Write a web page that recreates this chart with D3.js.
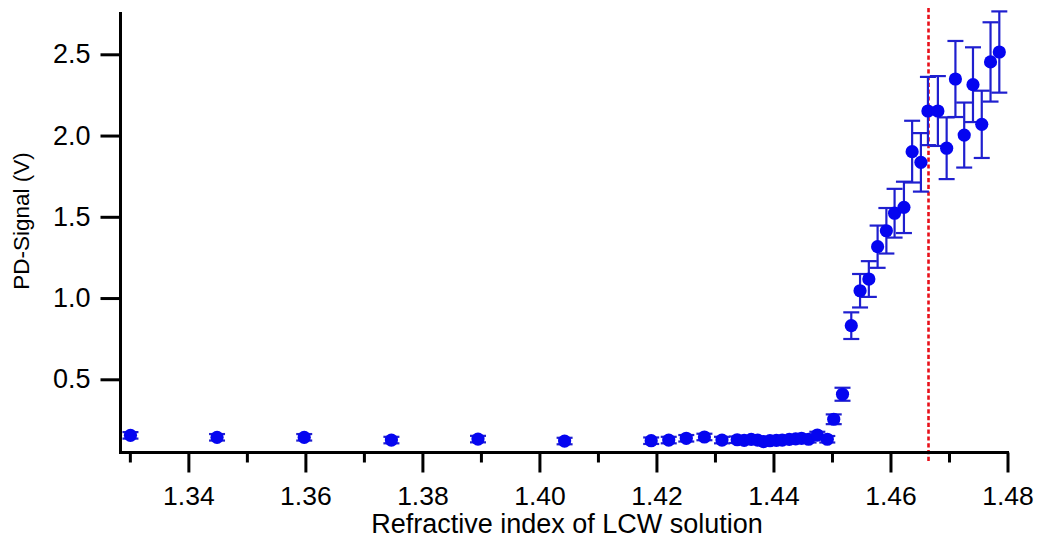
<!DOCTYPE html>
<html>
<head>
<meta charset="utf-8">
<script src="https://cdn.jsdelivr.net/npm/d3@7"></script>
<style>
  html, body { margin: 0; padding: 0; background: #fff; }
  svg { display: block; }
  text { font-family: "Liberation Sans", Arial, sans-serif; fill: #000; }
</style>
</head>
<body>
<svg id="chart" width="1039" height="542"></svg>
<script>
// Refractive index of each LCW solution
const refractiveIndex = [
  1.3301, 1.3449, 1.3598, 1.3747, 1.3895, 1.4043,
  1.4191, 1.4221, 1.4251, 1.4282, 1.4312,
  1.4338, 1.4350, 1.4362, 1.4373, 1.4383, 1.4394, 1.4405, 1.4415,
  1.4427, 1.4438, 1.4448, 1.4460, 1.4475, 1.4492,
  1.4503, 1.4518, 1.4533, 1.4548, 1.4563, 1.4578, 1.4593, 1.4607,
  1.4623, 1.4637, 1.4652, 1.4664, 1.4681, 1.4696, 1.4711, 1.4726,
  1.4741, 1.4756, 1.4771, 1.4786
];

// Photodiode signal (V)
const pdSignal = [
  0.155, 0.143, 0.143, 0.126, 0.132, 0.120,
  0.122, 0.126, 0.137, 0.145, 0.126,
  0.128, 0.124, 0.130, 0.126, 0.116, 0.122, 0.124, 0.126,
  0.130, 0.133, 0.137, 0.131, 0.157, 0.131,
  0.254, 0.408, 0.830, 1.045, 1.117, 1.316, 1.414, 1.522,
  1.558, 1.901, 1.835, 2.151, 2.151, 1.922, 2.348, 2.003,
  2.313, 2.069, 2.453, 2.514
];

// Error of the signal (V), symmetric
const pdError = [
  0.02, 0.02, 0.02, 0.02, 0.02, 0.02,
  0.02, 0.02, 0.02, 0.02, 0.02,
  0.02, 0.02, 0.02, 0.02, 0.02, 0.02, 0.02, 0.02,
  0.02, 0.02, 0.02, 0.02, 0.02, 0.02,
  0.03, 0.04, 0.082, 0.103, 0.11, 0.13, 0.14, 0.15,
  0.158, 0.19, 0.18, 0.21, 0.215, 0.19, 0.234, 0.20,
  0.23, 0.207, 0.244, 0.25
];

// Axis ticks
const xMajorTicks = [1.34, 1.36, 1.38, 1.40, 1.42, 1.44, 1.46, 1.48];
const xMinorTicks = [1.33, 1.35, 1.37, 1.39, 1.41, 1.43, 1.45, 1.47];
const yTicks = [0.5, 1.0, 1.5, 2.0, 2.5];

// Refractive index of the reference (dashed marker)
const markerIndex = [1.4665];

const xDomain = [1.3284, 1.48];
const yDomain = [0.0495, 2.7603];

const svg = d3.select("#chart");

const plot = { left: 120.5, right: 1007.5, top: 12, bottom: 452.5 };

const x = d3.scaleLinear().domain(xDomain).range([plot.left, plot.right]);
const y = d3.scaleLinear().domain(yDomain).range([plot.bottom, plot.top]);

const data = refractiveIndex.map((n, i) => ({ n, v: pdSignal[i], e: pdError[i] }));

// Dashed reference line
svg.append("g")
  .selectAll("line")
  .data(markerIndex)
  .join("line")
  .attr("x1", d => x(d)).attr("x2", d => x(d))
  .attr("y1", 8).attr("y2", 462)
  .attr("stroke", "#e8101a")
  .attr("stroke-width", 2.6)
  .attr("stroke-dasharray", "4.2,2.6");

// Error bars
const barColor = "#1f1fcf";
const capHalf = 8;
const bars = svg.append("g").attr("stroke", barColor).attr("stroke-width", 2.2).attr("fill", "none");
bars.selectAll("line.stem")
  .data(data)
  .join("line")
  .attr("class", "stem")
  .attr("x1", d => x(d.n)).attr("x2", d => x(d.n))
  .attr("y1", d => y(d.v - d.e)).attr("y2", d => y(d.v + d.e));
bars.selectAll("line.capTop")
  .data(data)
  .join("line")
  .attr("class", "capTop")
  .attr("x1", d => x(d.n) - capHalf).attr("x2", d => x(d.n) + capHalf)
  .attr("y1", d => y(d.v + d.e)).attr("y2", d => y(d.v + d.e));
bars.selectAll("line.capBottom")
  .data(data)
  .join("line")
  .attr("class", "capBottom")
  .attr("x1", d => x(d.n) - capHalf).attr("x2", d => x(d.n) + capHalf)
  .attr("y1", d => y(d.v - d.e)).attr("y2", d => y(d.v - d.e));

// Data points
svg.append("g")
  .selectAll("circle")
  .data(data)
  .join("circle")
  .attr("cx", d => x(d.n))
  .attr("cy", d => y(d.v))
  .attr("r", 6.6)
  .attr("fill", "#0505f0");

// X axis: major ticks with labels, minor ticks without
const xAxis = d3.axisBottom(x)
  .tickValues(xMajorTicks)
  .tickSize(20)
  .tickSizeOuter(0)
  .tickPadding(14)
  .tickFormat(d3.format(".2f"));
const gx = svg.append("g").attr("transform", `translate(0,${plot.bottom})`).call(xAxis);
gx.select(".domain").attr("stroke", "#000").attr("stroke-width", 3)
  .attr("d", `M${plot.left - 1.5},0H${plot.right + 1.5}`);
gx.selectAll(".tick line").attr("stroke", "#000").attr("stroke-width", 3);
gx.selectAll(".tick text").attr("font-size", 26.5).attr("fill", "#000")
  .attr("font-family", "'Liberation Sans', Arial, sans-serif");

const xMinor = d3.axisBottom(x).tickValues(xMinorTicks).tickSize(10).tickSizeOuter(0).tickFormat("");
const gxm = svg.append("g").attr("transform", `translate(0,${plot.bottom})`).call(xMinor);
gxm.select(".domain").remove();
gxm.selectAll(".tick line").attr("stroke", "#000").attr("stroke-width", 3);

// Y axis
const yAxis = d3.axisLeft(y)
  .tickValues(yTicks)
  .tickSize(20)
  .tickSizeOuter(0)
  .tickPadding(10)
  .tickFormat(d3.format(".1f"));
const gy = svg.append("g").attr("transform", `translate(${plot.left},0)`).call(yAxis);
gy.select(".domain").attr("stroke", "#000").attr("stroke-width", 3)
  .attr("d", `M0,${plot.top}V${plot.bottom + 1.5}`);
gy.selectAll(".tick line").attr("stroke", "#000").attr("stroke-width", 3);
gy.selectAll(".tick text").attr("font-size", 27).attr("fill", "#000")
  .attr("font-family", "'Liberation Sans', Arial, sans-serif");

// Axis titles
svg.append("text")
  .attr("x", (plot.left + plot.right) / 2 + 3)
  .attr("y", 533)
  .attr("text-anchor", "middle")
  .attr("font-size", 27)
  .text("Refractive index of LCW solution");

svg.append("text")
  .attr("transform", "translate(29,221) rotate(-90)")
  .attr("text-anchor", "middle")
  .attr("font-size", 22.5)
  .text("PD-Signal (V)");
</script>
</body>
</html>
